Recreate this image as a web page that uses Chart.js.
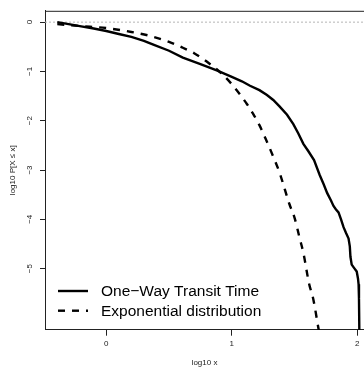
<!DOCTYPE html>
<html>
<head>
<meta charset="utf-8">
<script src="https://cdn.jsdelivr.net/npm/chart.js@4"></script>
<style>
  html, body { margin: 0; padding: 0; background: #fff; overflow: hidden; }
  #wrap { width: 364px; height: 369px; position: relative; }
</style>
</head>
<body>
<div id="wrap"><canvas id="ccdfChart"></canvas></div>
<script>
// data (log10 scales)
const transitX = [-0.39, -0.3, -0.2, -0.1, 0, 0.1, 0.2, 0.3, 0.38, 0.5, 0.61, 0.75, 0.88, 1.0, 1.08, 1.145, 1.22, 1.28, 1.33, 1.38, 1.44, 1.49, 1.53, 1.57, 1.61, 1.655, 1.7, 1.73, 1.76, 1.79, 1.81, 1.83, 1.85, 1.87, 1.89, 1.91, 1.93, 1.94, 1.945, 1.955, 1.975, 1.995, 2.005, 2.01, 2.013, 2.016];
const transitY = [0, -0.04, -0.085, -0.13, -0.18, -0.24, -0.3, -0.38, -0.46, -0.58, -0.72, -0.85, -0.98, -1.11, -1.2, -1.29, -1.38, -1.48, -1.58, -1.71, -1.88, -2.07, -2.26, -2.47, -2.62, -2.8, -3.1, -3.28, -3.47, -3.62, -3.73, -3.8, -3.86, -4.0, -4.16, -4.28, -4.39, -4.55, -4.76, -4.92, -4.99, -5.06, -5.2, -5.32, -5.6, -6.3];

const expX = [-0.39, -0.2, 0, 0.2, 0.35, 0.5, 0.61, 0.7, 0.8, 0.93, 1.0, 1.12, 1.17, 1.22, 1.265, 1.34, 1.38, 1.46, 1.5, 1.54, 1.57, 1.615, 1.65, 1.69, 1.72];
const expY = [-0.04, -0.08, -0.12, -0.2, -0.28, -0.4, -0.52, -0.63, -0.8, -1.07, -1.26, -1.66, -1.86, -2.09, -2.34, -2.79, -3.05, -3.7, -3.97, -4.38, -4.68, -5.3, -5.63, -6.21, -6.6];

const seriesNames = ["One\u2212Way Transit Time", "Exponential distribution"];
const xTicks = [0, 1, 2];
const yTicks = [-5, -4, -3, -2, -1, 0];
const xRange = [-0.488, 2.053];
const yRange = [-6.24, 0.23];
const refLevel = 0;

const FONT = "'Liberation Sans', Arial, Helvetica, sans-serif";

function toPoints(xs, ys) {
  return xs.map((x, i) => ({ x: x, y: ys[i] }));
}

function minusSign(v) {
  return v < 0 ? "\u2212" + Math.abs(v) : String(v);
}

// top frame line + legend inside the plot, like base R
const boxLegend = {
  id: "boxLegend",
  afterDraw(chart) {
    const { ctx, chartArea } = chart;
    ctx.save();
    ctx.strokeStyle = "#222";
    ctx.lineWidth = 1;
    ctx.beginPath();
    ctx.moveTo(chartArea.left, chartArea.top + 0.5);
    ctx.lineTo(chartArea.right, chartArea.top + 0.5);
    ctx.stroke();

    const rows = [chartArea.bottom - 38.7, chartArea.bottom - 19];
    ctx.font = "15.5px " + FONT;
    ctx.textBaseline = "middle";
    ctx.fillStyle = "#000";
    for (let i = 0; i < 2; i++) {
      const ds = chart.data.datasets[i];
      ctx.strokeStyle = "#000";
      ctx.lineWidth = ds.borderWidth;
      ctx.setLineDash(ds.borderDash || []);
      ctx.beginPath();
      ctx.moveTo(chartArea.left + 13, rows[i]);
      ctx.lineTo(chartArea.left + 43, rows[i]);
      ctx.stroke();
      ctx.setLineDash([]);
      ctx.fillText(ds.label, chartArea.left + 56, rows[i] + 1);
    }
    ctx.restore();
  },
};

const ctx = document.getElementById("ccdfChart").getContext("2d");
new Chart(ctx, {
  type: "line",
  data: {
    datasets: [
      {
        label: seriesNames[0],
        data: toPoints(transitX, transitY),
        borderColor: "#000",
        borderWidth: 2.4,
        pointRadius: 0,
        tension: 0,
        order: 1,
      },
      {
        label: seriesNames[1],
        data: toPoints(expX, expY),
        borderColor: "#000",
        borderWidth: 2.4,
        borderDash: [7, 7],
        pointRadius: 0,
        cubicInterpolationMode: "monotone",
        order: 2,
      },
      {
        label: "ref",
        data: toPoints(xRange, [refLevel, refLevel]),
        borderColor: "#b5b5b5",
        borderWidth: 1,
        borderDash: [2, 2],
        pointRadius: 0,
        order: 3,
      },
    ],
  },
  options: {
    responsive: true,
    maintainAspectRatio: false,
    animation: false,
    layout: { padding: { top: 4, right: 0, left: 0, bottom: 0 } },
    plugins: {
      legend: { display: false },
      tooltip: { enabled: false },
    },
    scales: {
      x: {
        type: "linear",
        min: xRange[0],
        max: xRange[1],
        afterBuildTicks: (scale) => {
          scale.ticks = xTicks.map((v) => ({ value: v }));
        },
        afterFit: (scale) => {
          scale.height = 39.3;
        },
        grid: { drawOnChartArea: false, tickLength: 6, tickColor: "#222" },
        border: { color: "#222", width: 1 },
        ticks: {
          color: "#222",
          padding: 3,
          maxRotation: 0,
          font: { family: FONT, size: 8 },
          callback: (v) => minusSign(v),
        },
        title: {
          display: true,
          text: "log10 x",
          color: "#222",
          padding: { top: 0, bottom: 1 },
          font: { family: FONT, size: 8 },
        },
      },
      y: {
        min: yRange[0],
        max: yRange[1],
        afterBuildTicks: (scale) => {
          scale.ticks = yTicks.map((v) => ({ value: v }));
        },
        afterFit: (scale) => {
          scale.width = 45;
        },
        grid: { drawOnChartArea: false, tickLength: 5, tickColor: "#222" },
        border: { color: "#222", width: 1 },
        ticks: {
          color: "#222",
          padding: 6,
          minRotation: 90,
          maxRotation: 90,
          crossAlign: "center",
          font: { family: FONT, size: 8 },
          callback: (v) => minusSign(v),
        },
        title: {
          display: true,
          text: "log10 P[X \u2264 x]",
          color: "#222",
          padding: { top: 8, bottom: 0 },
          font: { family: FONT, size: 8 },
        },
      },
    },
  },
  plugins: [boxLegend],
});
</script>
</body>
</html>
